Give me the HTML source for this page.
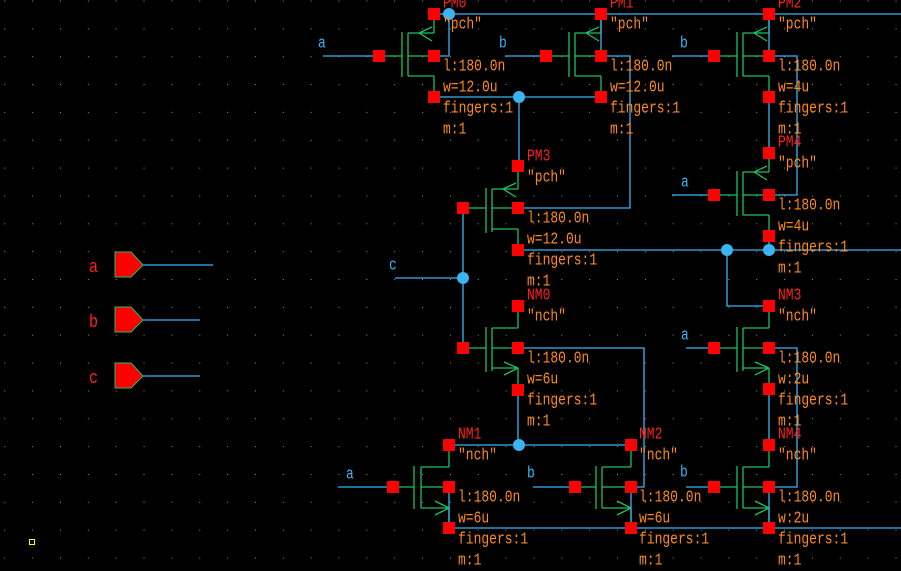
<!DOCTYPE html>
<html><head><meta charset="utf-8"><style>
html,body{margin:0;padding:0;background:#000;}
svg{display:block}
text{font-family:"Liberation Mono",monospace;font-size:13px;transform-box:fill-box;transform-origin:center;transform:scaleY(1.25)}
.o{fill:#ff8a1c}.r{fill:#ff2020}.bl{fill:#3ab4f2}
</style></head><body>
<svg width="901" height="571" viewBox="0 0 901 571" xmlns="http://www.w3.org/2000/svg">
<defs>
<pattern id="g" x="4.3" y="0.5" width="27.85" height="27.85" patternUnits="userSpaceOnUse">
<rect x="0" y="0" width="1" height="1" fill="#8890a0"/></pattern>
</defs>
<rect width="901" height="571" fill="#000"/>
<rect width="901" height="571" fill="url(#g)"/>
<rect x="29.5" y="539.5" width="5" height="5" fill="none" stroke="#ffff00" stroke-width="1"/>

<g stroke="#20c060" stroke-width="1.3" fill="none">
<path d="M402 32V77M408 33V76M408 33H434M408 56H434M408 76H434M434 14V33M434 76V97M379 56H402M419 33L432 27M419 33L432 41"/>
<path d="M569 32V77M575 33V76M575 33H601M575 56H601M575 76H601M601 14V33M601 76V97M546 56H569M586 33L599 27M586 33L599 41"/>
<path d="M737 32V77M743 33V76M743 33H769M743 56H769M743 76H769M769 14V33M769 76V97M714 56H737M754 33L767 27M754 33L767 41"/>
<path d="M737 171V216M743 172V215M743 172H769M743 195H769M743 215H769M769 153V172M769 215V236M714 195H737M754 172L767 166M754 172L767 180"/>
<path d="M486 188V233M492 189V232M492 189H518M492 208H518M492 229H518M518 166V189M518 229V250M463 208H486M503 189L516 183M503 189L516 197"/>
<path d="M486 327V372M492 328V371M492 328H518M492 348H518M492 368H518M518 306V328M518 368V390M463 348H486M518 368L504 362M518 368L504 375"/>
<path d="M737 327V372M743 328V371M743 328H769M743 348H769M743 368H769M769 306V328M769 368V389M714 348H737M769 368L755 362M769 368L755 375"/>
<path d="M414 466V509M421 467V508M421 467H449M421 487H449M421 508H449M449 445V467M449 508V528M393 487H414M449 508L435 501M449 508L435 515"/>
<path d="M596 466V509M602 467V508M602 467H631M602 487H631M602 508H631M631 445V467M631 508V528M575 487H596M631 508L617 501M631 508L617 515"/>
<path d="M737 466V509M743 467V508M743 467H769M743 487H769M743 508H769M769 445V467M769 508V528M714 487H737M769 508L755 501M769 508L755 515"/>
</g>

<g stroke="#3ab4f2" stroke-width="1.3" fill="none">
<path d="M434 14H901M449 14V56H434M601 14V56M769 14V56"/>
<path d="M601 56H630V208H518M769 56H797V195H769"/>
<path d="M434 97H601M519 97V166M769 97V153"/>
<path d="M518 250H901M769 236V250M727 250V306H769"/>
<path d="M463 208V348M395 278H463"/>
<path d="M518 348H644V487H631M631 487V528M449 487V528"/>
<path d="M518 390V445M449 445H631"/>
<path d="M449 528H901"/>
<path d="M769 348H797V487H769M769 389V445M769 487V528"/>
<path d="M323 56H379M505 56H546M672 56H714M672 195H714M686 348H714M338 487H393M533 487H575M686 487H714"/>
<path d="M143 265H213M143 320H200M143 376H200"/>
</g>

<g fill="#3ab4f2">
<circle cx="449" cy="14" r="6"/><circle cx="519" cy="97" r="6"/><circle cx="463" cy="278" r="6"/>
<circle cx="727" cy="250" r="6"/><circle cx="769" cy="250" r="6"/><circle cx="519" cy="445" r="6"/>
</g>

<g fill="#ff0000">
<rect x="428" y="8" width="12" height="12"/><rect x="428" y="50" width="12" height="12"/><rect x="428" y="91" width="12" height="12"/><rect x="373" y="50" width="12" height="12"/>
<rect x="595" y="8" width="12" height="12"/><rect x="595" y="50" width="12" height="12"/><rect x="595" y="91" width="12" height="12"/><rect x="540" y="50" width="12" height="12"/>
<rect x="763" y="8" width="12" height="12"/><rect x="763" y="50" width="12" height="12"/><rect x="763" y="91" width="12" height="12"/><rect x="708" y="50" width="12" height="12"/>
<rect x="763" y="147" width="12" height="12"/><rect x="763" y="189" width="12" height="12"/><rect x="763" y="230" width="12" height="12"/><rect x="708" y="189" width="12" height="12"/>
<rect x="512" y="160" width="12" height="12"/><rect x="512" y="202" width="12" height="12"/><rect x="512" y="244" width="12" height="12"/><rect x="457" y="202" width="12" height="12"/>
<rect x="512" y="300" width="12" height="12"/><rect x="512" y="342" width="12" height="12"/><rect x="512" y="384" width="12" height="12"/><rect x="457" y="342" width="12" height="12"/>
<rect x="763" y="300" width="12" height="12"/><rect x="763" y="342" width="12" height="12"/><rect x="763" y="383" width="12" height="12"/><rect x="708" y="342" width="12" height="12"/>
<rect x="443" y="439" width="12" height="12"/><rect x="443" y="481" width="12" height="12"/><rect x="443" y="522" width="12" height="12"/><rect x="387" y="481" width="12" height="12"/>
<rect x="625" y="439" width="12" height="12"/><rect x="625" y="481" width="12" height="12"/><rect x="625" y="522" width="12" height="12"/><rect x="569" y="481" width="12" height="12"/>
<rect x="763" y="439" width="12" height="12"/><rect x="763" y="481" width="12" height="12"/><rect x="763" y="522" width="12" height="12"/><rect x="708" y="481" width="12" height="12"/>
</g>

<g fill="#ff0000" stroke="#20c060" stroke-width="1">
<path d="M115 252H131L143 265L131 277H115Z"/>
<path d="M115 307H131L143 320L131 332H115Z"/>
<path d="M115 363H131L143 376L131 388H115Z"/>
</g>
<text x="89" y="271" class="r" style="font-size:15px">a</text>
<text x="89" y="326" class="r" style="font-size:15px">b</text>
<text x="89" y="382" class="r" style="font-size:15px">c</text>

<g class="bl" style="font-size:15px">
<text x="318" y="47">a</text><text x="499" y="47">b</text><text x="680" y="47">b</text>
<text x="681" y="186">a</text><text x="389" y="269">c</text><text x="681" y="339">a</text>
<text x="346" y="478">a</text><text x="527" y="477">b</text><text x="680" y="476">b</text>
</g>

<g>
<text x="443" y="7" class="r">PM0</text><text x="610" y="7" class="r">PM1</text><text x="778" y="7" class="r">PM2</text>
<text x="778" y="146" class="r">PM4</text><text x="527" y="160" class="r">PM3</text>
<text x="527" y="299" class="r">NM0</text><text x="778" y="299" class="r">NM3</text>
<text x="458" y="438" class="r">NM1</text><text x="639" y="438" class="r">NM2</text><text x="778" y="438" class="r">NM4</text>
</g>
<g class="o">
<text x="443" y="28">"pch"</text><text x="443" y="70">l:180.0n</text><text x="443" y="91">w=12.0u</text><text x="443" y="112">fingers:1</text><text x="443" y="133">m:1</text>
<text x="610" y="28">"pch"</text><text x="610" y="70">l:180.0n</text><text x="610" y="91">w=12.0u</text><text x="610" y="112">fingers:1</text><text x="610" y="133">m:1</text>
<text x="778" y="28">"pch"</text><text x="778" y="70">l:180.0n</text><text x="778" y="91">w=4u</text><text x="778" y="112">fingers:1</text><text x="778" y="133">m:1</text>
<text x="778" y="167">"pch"</text><text x="778" y="209">l:180.0n</text><text x="778" y="230">w=4u</text><text x="778" y="251">fingers:1</text><text x="778" y="272">m:1</text>
<text x="527" y="181">"pch"</text><text x="527" y="222">l:180.0n</text><text x="527" y="243">w=12.0u</text><text x="527" y="264">fingers:1</text><text x="527" y="285">m:1</text>
<text x="527" y="320">"nch"</text><text x="527" y="362">l:180.0n</text><text x="527" y="383">w=6u</text><text x="527" y="404">fingers:1</text><text x="527" y="425">m:1</text>
<text x="778" y="320">"nch"</text><text x="778" y="362">l:180.0n</text><text x="778" y="383">w:2u</text><text x="778" y="404">fingers:1</text><text x="778" y="425">m:1</text>
<text x="458" y="459">"nch"</text><text x="458" y="501">l:180.0n</text><text x="458" y="522">w=6u</text><text x="458" y="543">fingers:1</text><text x="458" y="564">m:1</text>
<text x="639" y="459">"nch"</text><text x="639" y="501">l:180.0n</text><text x="639" y="522">w=6u</text><text x="639" y="543">fingers:1</text><text x="639" y="564">m:1</text>
<text x="778" y="459">"nch"</text><text x="778" y="501">l:180.0n</text><text x="778" y="522">w:2u</text><text x="778" y="543">fingers:1</text><text x="778" y="564">m:1</text>
</g>
</svg>
</body></html>
